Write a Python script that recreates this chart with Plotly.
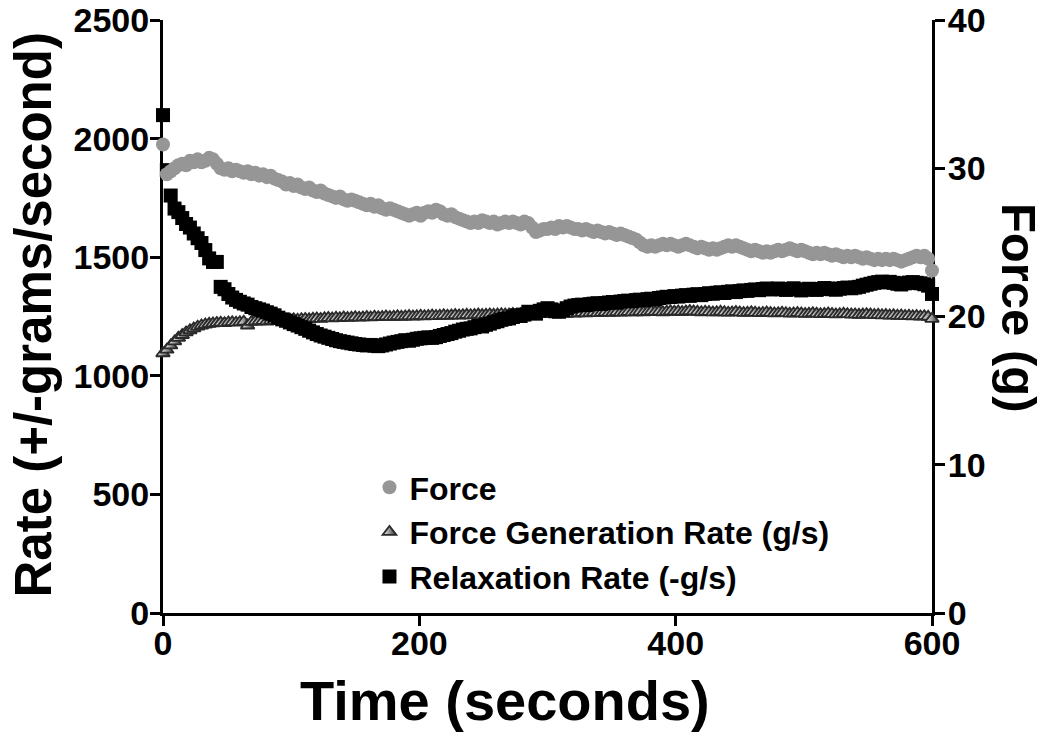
import plotly.graph_objects as go

# Time axis (seconds): one sample every 3 s from 0 to 600
time_s = list(range(0, 601, 3))

# Force (g) - right axis
force_g = [
    31.6, 29.6, 29.8, 30.0, 30.2, 30.3, 30.2, 30.5, 30.4, 30.6,
    30.4, 30.5, 30.7, 30.6, 30.3, 30.0, 29.9, 30.0, 29.8, 29.9,
    29.8, 29.7, 29.8, 29.6, 29.7, 29.5, 29.6, 29.4, 29.5, 29.3,
    29.2, 29.1, 28.9, 29.0, 28.8, 28.9, 28.7, 28.6, 28.7, 28.5,
    28.4, 28.5, 28.3, 28.2, 28.1, 28.0, 28.1, 27.9, 27.8, 27.9,
    27.8, 27.7, 27.6, 27.5, 27.6, 27.4, 27.5, 27.3, 27.2, 27.3,
    27.2, 27.1, 27.0, 26.9, 26.8, 26.9, 27.0, 26.8, 27.0, 27.1,
    27.0, 27.2, 27.1, 26.9, 26.8, 26.9, 26.7, 26.6, 26.5, 26.4,
    26.3, 26.4, 26.3, 26.5, 26.4, 26.3, 26.4, 26.2, 26.3, 26.4,
    26.3, 26.4, 26.3, 26.2, 26.4, 26.3, 26.0, 25.7, 25.8, 25.9,
    25.9, 26.0, 25.9, 26.1, 26.0, 26.1, 26.0, 25.9, 25.9, 25.8,
    25.9, 25.8, 25.7, 25.8, 25.7, 25.6, 25.7, 25.6, 25.5, 25.6,
    25.5, 25.4, 25.3, 25.2, 25.0, 24.8, 24.7, 24.8, 24.7, 24.8,
    24.9, 24.8, 24.9, 24.8, 24.7, 24.8, 24.9, 24.8, 24.7, 24.6,
    24.7, 24.6, 24.5, 24.6, 24.5, 24.6, 24.7, 24.8, 24.7, 24.8,
    24.7, 24.6, 24.5, 24.4, 24.5, 24.4, 24.3, 24.4, 24.3, 24.4,
    24.5, 24.4, 24.5, 24.6, 24.5, 24.4, 24.5, 24.4, 24.3, 24.2,
    24.3, 24.2, 24.3, 24.2, 24.1, 24.2, 24.1, 24.0, 24.1, 24.0,
    24.1, 24.0, 23.9, 24.0, 23.9, 23.8, 23.9, 23.8, 23.9, 23.8,
    23.9, 23.8, 23.7, 23.8, 23.9, 24.0, 24.1, 24.0, 24.1, 23.9,
    23.1,
]

# Force Generation Rate (g/s) - left axis
gen_rate = [
    1095, 1110, 1128, 1145, 1160, 1172, 1183, 1192, 1200, 1207,
    1212, 1216, 1219, 1221, 1223, 1224, 1222, 1225, 1226, 1224,
    1226, 1228, 1212, 1227, 1229, 1230, 1231, 1229, 1232, 1233,
    1234, 1236, 1235, 1237, 1238, 1236, 1239, 1240, 1238, 1241,
    1242, 1240, 1243, 1244, 1242, 1245, 1243, 1246, 1244, 1245,
    1247, 1245, 1246, 1248, 1246, 1249, 1247, 1248, 1250, 1248,
    1249, 1251, 1249, 1250, 1252, 1250, 1251, 1253, 1251, 1252,
    1254, 1252, 1253, 1255, 1253, 1254, 1256, 1254, 1255, 1257,
    1255, 1256, 1258, 1256, 1257, 1259, 1257, 1258, 1260, 1258,
    1259, 1261, 1259, 1260, 1262, 1260, 1261, 1263, 1261, 1262,
    1260, 1262, 1264, 1262, 1263, 1261, 1264, 1262, 1263, 1265,
    1263, 1264, 1266, 1264, 1265, 1267, 1265, 1266, 1268, 1266,
    1267, 1269, 1267, 1268, 1270, 1268, 1269, 1271, 1269, 1270,
    1268, 1270, 1272, 1270, 1271, 1269, 1271, 1273, 1271, 1270,
    1268, 1270, 1269, 1267, 1268, 1270, 1268, 1266, 1267, 1269,
    1267, 1265, 1266, 1268, 1266, 1264, 1265, 1267, 1265, 1263,
    1264, 1266, 1264, 1262, 1263, 1265, 1263, 1261, 1262, 1264,
    1262, 1260, 1261, 1263, 1261, 1259, 1260, 1262, 1260, 1258,
    1259, 1257, 1258, 1260, 1258, 1256, 1257, 1255, 1256, 1254,
    1255, 1253, 1254, 1252, 1253, 1251, 1252, 1250, 1251, 1249,
    1240,
]

# Relaxation Rate (-g/s) - left axis
relax_rate = [
    2099, 1867, 1760, 1705, 1690, 1665, 1640, 1625, 1600, 1580,
    1560, 1530, 1495, 1480, 1480, 1375, 1365, 1345, 1330, 1320,
    1312, 1305, 1300, 1290, 1285, 1280, 1275, 1268, 1262, 1255,
    1245, 1238, 1232, 1225, 1218, 1212, 1205, 1198, 1190, 1183,
    1176, 1170, 1165, 1160, 1155, 1150, 1146, 1143, 1140, 1137,
    1134, 1132, 1130, 1128, 1130, 1127, 1125, 1128, 1132, 1136,
    1140, 1143, 1146, 1150, 1148, 1152, 1156, 1158, 1160, 1162,
    1160, 1163, 1168, 1172, 1176, 1180, 1186, 1190, 1195, 1198,
    1200, 1205, 1210, 1208, 1215, 1220, 1226, 1230, 1236, 1240,
    1242, 1248, 1255, 1252, 1258, 1270, 1265, 1262, 1274, 1280,
    1285, 1280, 1272, 1270, 1276, 1285, 1292, 1296, 1298, 1300,
    1298, 1302, 1304, 1306, 1303, 1307, 1309, 1311, 1308, 1313,
    1315, 1317, 1315, 1319, 1321, 1319, 1323, 1325, 1322, 1328,
    1330, 1333, 1332, 1336, 1334, 1338, 1340, 1337, 1342, 1344,
    1340, 1345, 1348, 1346, 1350, 1352, 1349, 1354, 1356, 1353,
    1357, 1360, 1358, 1362, 1364, 1361, 1366, 1368, 1364, 1366,
    1368, 1365, 1362, 1366, 1369, 1364, 1360, 1363, 1367, 1365,
    1362, 1366, 1370, 1368, 1365, 1363, 1367, 1370, 1372, 1369,
    1372, 1375, 1380, 1384, 1388, 1392, 1395, 1397, 1394, 1396,
    1392, 1388, 1385, 1390, 1393, 1395, 1392, 1390, 1386, 1380,
    1345,
]

x_ticks = [0, 200, 400, 600]
left_ticks = [0, 500, 1000, 1500, 2000, 2500]
right_ticks = [0, 10, 20, 30, 40]

FONT = "Liberation Sans, Arial, Helvetica, sans-serif"

fig = go.Figure()

fig.add_trace(go.Scatter(
    x=time_s, y=gen_rate, mode="markers", name="Force Generation Rate (g/s)",
    marker=dict(symbol="triangle-up", size=12, color="white",
                gradient=dict(type="horizontal", color="#2a2a2a"),
                line=dict(color="#2a2a2a", width=1.8)),
    cliponaxis=False, legendrank=2,
))
fig.add_trace(go.Scatter(
    x=time_s, y=relax_rate, mode="markers", name="Relaxation Rate (-g/s)",
    marker=dict(symbol="square", size=14, color="black", line=dict(width=0)),
    cliponaxis=False, legendrank=3,
))
fig.add_trace(go.Scatter(
    x=time_s, y=force_g, mode="markers", name="Force", yaxis="y2",
    marker=dict(symbol="circle", size=14, color="#969696", line=dict(width=0)),
    cliponaxis=False, legendrank=1,
))

axis_common = dict(
    showline=True, linecolor="black", linewidth=3,
    ticks="outside", ticklen=10, tickwidth=3, tickcolor="black",
    showgrid=False, zeroline=False, layer="below traces", automargin=False,
    ticklabeloverflow="allow",
    tickfont=dict(family=FONT, size=34, color="black", weight="bold"),
)

title_font = dict(family=FONT, color="black", weight="bold")

fig.update_layout(
    width=1042, height=729,
    margin=dict(l=155, r=118, t=12, b=124),
    paper_bgcolor="white", plot_bgcolor="white",
    font=dict(family=FONT, color="black"),
    xaxis=dict(range=[0, 600], tickvals=x_ticks, ticklabelstandoff=-12,
               **axis_common),
    yaxis=dict(range=[0, 2500], tickvals=left_ticks, ticklabelstandoff=-6,
               **axis_common),
    yaxis2=dict(
        range=[0, 40], tickvals=right_ticks, overlaying="y", side="right",
        anchor="x", ticklabelstandoff=-4, **axis_common,
    ),
    legend=dict(
        x=0.2685, y=0.258, xanchor="left", yanchor="top",
        bgcolor="rgba(0,0,0,0)", borderwidth=0,
        font=dict(family=FONT, size=32, color="black", weight="bold"),
        itemsizing="trace", tracegroupgap=0,
    ),
    showlegend=True,
    annotations=[
        dict(text="Time (seconds)", xref="paper", yref="paper",
             x=0.445, y=-0.147, xanchor="center", yanchor="middle",
             showarrow=False, font=dict(size=56, **title_font)),
        dict(text="Rate (+/-grams/second)", xref="paper", yref="paper",
             x=-0.168, y=0.503, xanchor="center", yanchor="middle",
             textangle=-90, showarrow=False, font=dict(size=51, **title_font)),
        dict(text="Force (g)", xref="paper", yref="paper",
             x=1.114, y=0.515, xanchor="center", yanchor="middle",
             textangle=90, showarrow=False, font=dict(size=49, **title_font)),
    ],
)

fig.write_html("out.html")
